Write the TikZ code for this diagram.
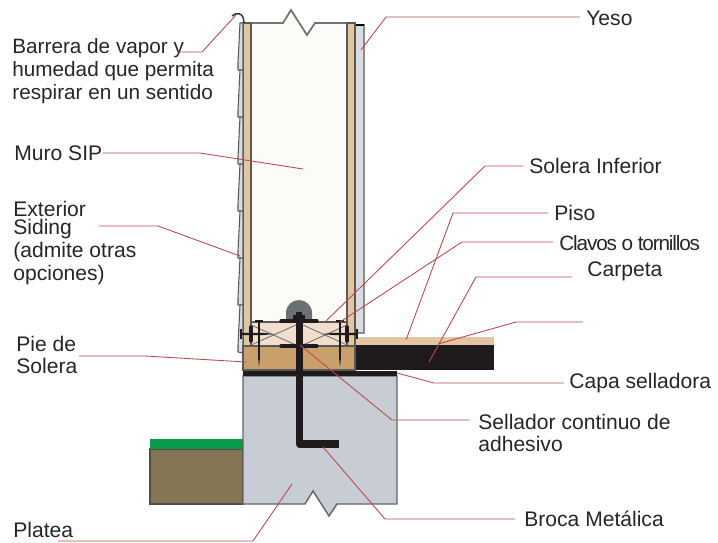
\documentclass[tikz,border=0pt]{standalone}
\usepackage{fontspec}
\setmainfont{Liberation Sans}
\newfontfamily\tightfont[LetterSpace=-5.5]{Liberation Sans}
\usetikzlibrary{calc}
\definecolor{osb}{HTML}{E2C6A4}
\definecolor{corecol}{HTML}{FBFBF7}
\definecolor{gyp}{HTML}{D9DCE0}
\definecolor{plate}{HTML}{F0DFCD}
\definecolor{sill}{HTML}{C99F6B}
\definecolor{concrete}{HTML}{C8CCD5}
\definecolor{soil}{HTML}{857555}
\definecolor{grass}{HTML}{0A9B48}
\definecolor{blk}{HTML}{1E1A1E}
\definecolor{dome}{HTML}{6B7074}
\definecolor{leadercol}{HTML}{BC4A4C}
\tikzset{
  lbl/.style={font=\fontsize{12}{13}\selectfont,text=black!85,anchor=west,inner sep=0pt,align=left},
  leader/.style={leadercol,line width=0.5pt},
  outl/.style={draw=black!65,line width=0.6pt},
  nailb/.style={blk,line width=1.7pt},
}
\begin{document}
\begin{tikzpicture}[x=0.02cm,y=-0.02cm]
    \useasboundingbox (0,0) rectangle (718,542);
    % wall
    \fill[gyp,draw=black!45,line width=0.8pt] (355,25) rectangle (364,333);
    \draw[black,line width=0.8pt] (355,25) -- (364,25);
    \filldraw[fill=corecol,draw=black!55,line width=1pt] (251,23) -- (283,23) -- (291,10) -- (307,35) -- (315,23) -- (347,23) -- (347,322) -- (251,322) -- cycle;
    \filldraw[fill=osb,outl] (243,23) rectangle (251,346);
    \filldraw[fill=osb,outl] (347,23) rectangle (355,346);
    % siding
    \foreach \y in {23,70,...,305}{
      \filldraw[fill=gyp,draw=black!65,line width=0.6pt] (240,\y) -- (243,\y) -- (243,\y+48) -- (238,\y+47) -- (238,\y+40) -- cycle;
    }
    \draw[black!80,line width=0.8pt] (232,16) .. controls (236,12) and (244,12) .. (244,23);
    % plates
    \filldraw[fill=plate,outl] (251,322) rectangle (347,346);
    \foreach \a/\b in {251/296,347/303}{
      \draw[black!55,line width=0.5pt] (\a,325) -- (\b,345);
      \draw[black!55,line width=0.5pt] (\a,345) -- (\b,325);
    }
    \filldraw[fill=sill,outl] (243,346) rectangle (355,370);
    % floor
    \fill[osb] (356,337) rectangle (494,345);
    \fill[blk] (356,345) rectangle (494,370);
    % footing
    \filldraw[fill=soil,draw=black!70,line width=0.6pt] (150,449) rectangle (243,504);
    \fill[grass] (150,439) rectangle (244,449);
    \filldraw[fill=concrete,draw=black!60,line width=0.8pt] (243,376) -- (397,376) -- (397,504) -- (337,504) -- (329,516) -- (313,491) -- (305,504) -- (243,504) -- cycle;
    \fill[blk] (243,371) rectangle (397,376);
    % anchor
    \fill[dome] (286,320) -- (286,313) .. controls (286,305.5) and (292,300) .. (299,300) .. controls (306,300) and (312,305.5) .. (312,313) -- (312,320) -- cycle;
    \draw[blk,line width=4.4pt,line join=round] (299.5,315) -- (299.5,444) -- (339,444);
    \fill[blk] (293,315) rectangle (305,320);
    \fill[blk] (296,312) rectangle (302,315);
    \draw[blk,line width=1.9pt,line cap=round] (281,321) -- (317,321);
    \draw[blk,line width=1.9pt,line cap=round] (281,346) -- (317,346);
    % nails
    \foreach \x in {259,340}{
      \draw[nailb] (\x-4,321) -- (\x+4,321);
      \fill[blk] (\x-0.9,322) -- (\x+0.9,322) -- (\x+0.9,358) -- (\x,367) -- (\x-0.9,358) -- cycle;
    }
    \draw[nailb] (241,329) -- (241,339);
    \fill[blk] (241,332.8) -- (262,332.8) -- (274,334) -- (262,335.2) -- (241,335.2) -- cycle;
    \draw[blk,line width=2pt,line cap=round] (251,327) -- (251,341);
    \draw[nailb] (357,329) -- (357,339);
    \fill[blk] (357,332.8) -- (335,332.8) -- (322,334) -- (335,335.2) -- (357,335.2) -- cycle;
    \draw[blk,line width=2pt,line cap=round] (347,327) -- (347,341);
    % labels
    \node[lbl] (nYeso) at (586,18) {Yeso};
    \node[lbl,font=\fontsize{11.8}{13}\selectfont] (nBarrera) at (12,71) {Barrera de vapor y\\humedad que permita\\respirar en un sentido};
    \node[lbl] (nMuro) at (14,153) {Muro SIP};
    \node[lbl] (nSiding) at (13,243) {Exterior\\[-2.5pt]Siding\\(admite otras\\opciones)};
    \node[lbl] (nSolera) at (529,166) {Solera Inferior};
    \node[lbl] (nPiso) at (554,213) {Piso};
    \node[lbl,font=\tightfont\fontsize{11.8}{13}\selectfont] (nClavos) at (559,243) {Clavos o tornillos};
    \node[lbl] (nCarpeta) at (587,271) {Carpeta};
    \node[lbl] (nPie) at (16,355) {Pie de\\Solera};
    \node[lbl] (nCapa) at (569,383) {Capa selladora};
    \node[lbl] (nSellador) at (478,433) {Sellador continuo de\\adhesivo};
    \node[lbl] (nBroca) at (524,519) {Broca Metálica};
    \node[lbl] (nPlatea) at (13,530) {Platea};
    % leaders
    \coordinate (tYeso) at (361,50);
    \coordinate (tBarrera) at (236,15);
    \coordinate (eBarrera) at (178,52);
    \coordinate (tMuro) at (303,169);
    \coordinate (tSiding) at (240,256);
    \coordinate (eSiding) at (99,226);
    \coordinate (tSolera) at (325,322);
    \coordinate (tPiso) at (406,340);
    \coordinate (tClavos) at (340,322);
    \coordinate (tCarpeta) at (429,362);
    \coordinate (eCarpeta) at (572,277);
    \coordinate (tFloor) at (438,344);
    \coordinate (eFloor) at (583,322);
    \coordinate (tPie) at (246,362);
    \coordinate (ePie) at (79,356);
    \coordinate (tCapa) at (397,373);
    \coordinate (tSellador) at (300,345);
    \coordinate (eSellador) at (470,420);
    \coordinate (tBroca) at (323,447);
    \coordinate (tPlatea) at (292,484);
    \coordinate (ePlatea) at (58,541);
    \draw[leader] (tYeso) -- (386,17) -- ($(nYeso.west)+(-6,-1)$);
    \draw[leader] (tBarrera) -- (202,52) -- (eBarrera);
    \draw[leader] (tMuro) -- (200,153) -- (nMuro.east);
    \draw[leader] (tSiding) -- (158,226) -- (eSiding);
    \draw[leader] (tSolera) -- (485,166) -- ($(nSolera.west)+(-6,0)$);
    \draw[leader] (tPiso) -- (453,213) -- ($(nPiso.west)+(-6,0)$);
    \draw[leader] (tClavos) -- (462,242) -- ($(nClavos.west)+(-6,-1)$);
    \draw[leader] (tCarpeta) -- (476,277) -- (eCarpeta);
    \draw[leader] (tFloor) -- (516,322) -- (eFloor);
    \draw[leader] (tPie) -- (145,356) -- (ePie);
    \draw[leader] (tCapa) -- (434,383) -- ($(nCapa.west)+(-5,0)$);
    \draw[leader] (tSellador) -- (392,420) -- (eSellador);
    \draw[leader] (tBroca) -- (385,519) -- ($(nBroca.west)+(-9,0)$);
    \draw[leader] (tPlatea) -- (253,541) -- (ePlatea);
\end{tikzpicture}
\end{document}
